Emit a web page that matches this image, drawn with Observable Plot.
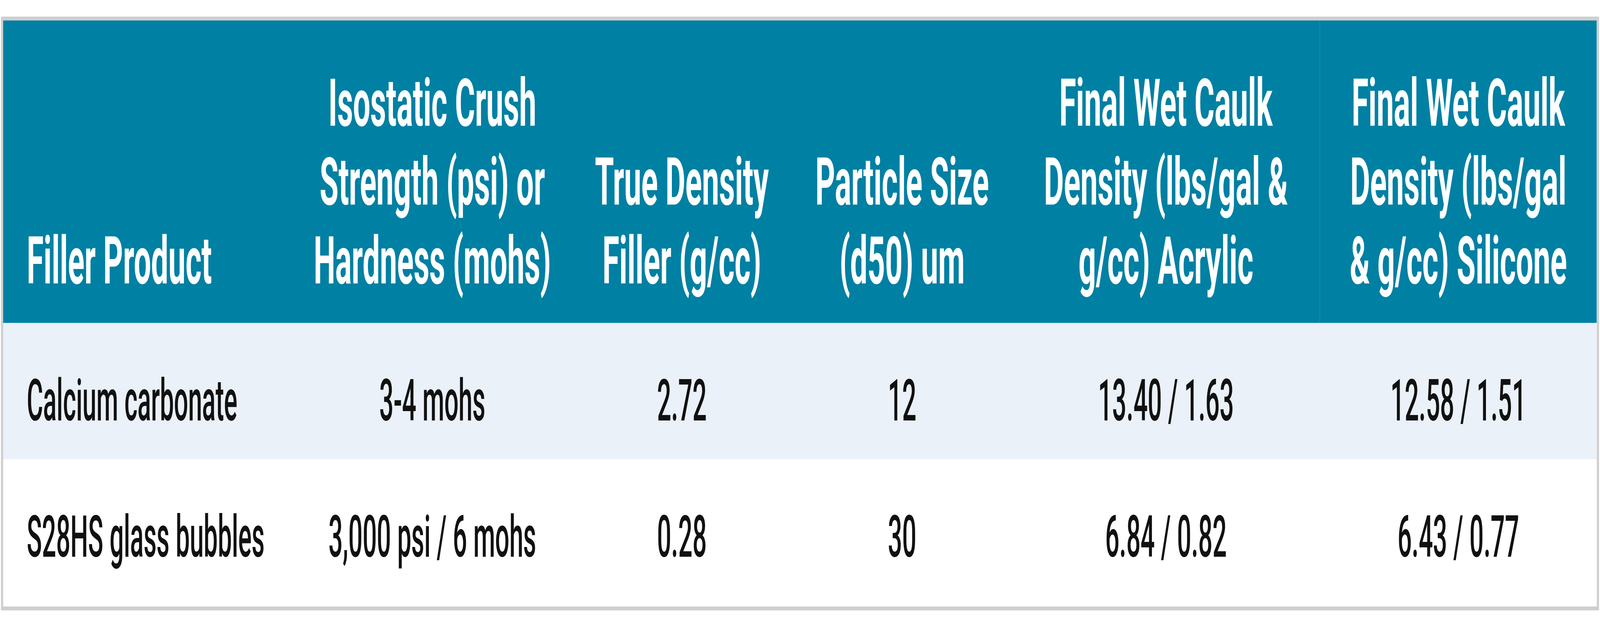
<!DOCTYPE html>
<html>
<head>
<meta charset="utf-8">
<script src="https://cdn.jsdelivr.net/npm/d3@7"></script>
<script src="https://cdn.jsdelivr.net/npm/@observablehq/plot@0.6"></script>
<style>
  html, body { margin: 0; padding: 0; background: #ffffff; overflow: hidden; width: 100%; height: 100%; }
  #chart { width: 100vw; height: 100vh; overflow: hidden; }
  #chart svg { display: block; }
</style>
</head>
<body>
<div id="chart"></div>
<script>
// ---------- DATA ----------
const headers = [
  "Filler Product",
  "Isostatic Crush\nStrength (psi) or\nHardness (mohs)",
  "True Density\nFiller (g/cc)",
  "Particle Size\n(d50) um",
  "Final Wet Caulk\nDensity (lbs/gal &\ng/cc) Acrylic",
  "Final Wet Caulk\nDensity (lbs/gal\n& g/cc) Silicone"
];
const products = ["Calcium carbonate", "S28HS glass bubbles"];
const crushStrength = ["3-4 mohs", "3,000 psi / 6 mohs"];
const trueDensity = [2.72, 0.28];
const particleSize = [12, 30];
const acrylicLbsGal = [13.40, 6.84];
const acrylicGcc = [1.63, 0.82];
const siliconeLbsGal = [12.58, 6.43];
const siliconeGcc = [1.51, 0.77];

// ---------- LAYOUT / STYLE ----------
const W = 7278, H = 1606;
const margin = {left: 14, right: 15, top: 52, bottom: 53};
const colWidths = [1319, 1266, 1004, 1000, 1400, 1260];
const rowHeights = [775, 349, 377];           // header, row 1, row 2
const leftPad = 107;                           // first column text inset
const headerBaselineFromBottom = 102;
const rowBaseline = 249;
const teal = "#0080a3";
const rowFills = [teal, "#eaf1f8", "#ffffff"];
const borderColor = "#cfcfcf";
const font = "Roboto, 'Liberation Sans', sans-serif";
const headerSquash = 0.83;   // condensed look
const bodySquash = 0.765;

// cumulative edges
const colEdges = [0];
colWidths.forEach(w => colEdges.push(colEdges[colEdges.length - 1] + w));
const rowEdges = [0];
rowHeights.forEach(h => rowEdges.push(rowEdges[rowEdges.length - 1] + h));
const totalW = colEdges[colEdges.length - 1];
const totalH = rowEdges[rowEdges.length - 1];

// ---------- TABLE BUILD ----------
const fmt2 = d3.format(".2f");
const rows = products.map((p, i) => [
  p,
  crushStrength[i],
  fmt2(trueDensity[i]),
  String(particleSize[i]),
  `${fmt2(acrylicLbsGal[i])} / ${fmt2(acrylicGcc[i])}`,
  `${fmt2(siliconeLbsGal[i])} / ${fmt2(siliconeGcc[i])}`
]);

const rowBands = rowHeights.map((h, r) => ({r, y1: rowEdges[r], y2: rowEdges[r + 1], fill: rowFills[r]}));

const anchorX = c => c === 0 ? colEdges[0] + leftPad : (colEdges[c] + colEdges[c + 1]) / 2;
const anchorT = c => c === 0 ? "start" : "middle";

const headerCells = headers.map((t, c) => ({
  text: t, x: anchorX(c), y: rowEdges[1] - headerBaselineFromBottom, anchor: anchorT(c)
}));
const bodyCells = [];
rows.forEach((row, r) => row.forEach((t, c) => bodyCells.push({
  text: t, x: anchorX(c), y: rowEdges[r + 1] + rowBaseline, anchor: anchorT(c)
})));

const textCommon = {x: "x", y: "y", text: "text", lineAnchor: "bottom", fontFamily: font};

const chart = Plot.plot({
  width: W,
  height: H,
  marginLeft: margin.left,
  marginRight: margin.right,
  marginTop: margin.top,
  marginBottom: margin.bottom,
  style: {background: "#ffffff"},
  x: {type: "linear", domain: [0, totalW], axis: null},
  y: {type: "linear", domain: [0, totalH], reverse: true, axis: null},
  marks: [
    Plot.rect(rowBands, {x1: 0, x2: totalW, y1: "y1", y2: "y2", fill: "fill"}),
    Plot.ruleX([colEdges[5]], {y1: 0, y2: rowEdges[1], stroke: "#2b93b1", strokeWidth: 2}),
    Plot.text(headerCells.filter(d => d.anchor === "start"), {...textCommon, textAnchor: "start",
      fill: "#ffffff", fontWeight: "bold", fontSize: 168, lineHeight: 1.2, className: "hdr"}),
    Plot.text(headerCells.filter(d => d.anchor === "middle"), {...textCommon, textAnchor: "middle",
      fill: "#ffffff", fontWeight: "bold", fontSize: 168, lineHeight: 1.2, className: "hdr"}),
    Plot.text(bodyCells.filter(d => d.anchor === "start"), {...textCommon, textAnchor: "start",
      fill: "#111111", fontWeight: 500, fontSize: 149, className: "bdy"}),
    Plot.text(bodyCells.filter(d => d.anchor === "middle"), {...textCommon, textAnchor: "middle",
      fill: "#111111", fontWeight: 500, fontSize: 149, className: "bdy"}),
    Plot.frame({stroke: borderColor, strokeWidth: 10, inset: -5})
  ]
});

// horizontal condensing of the glyphs about each text anchor
d3.select(chart).selectAll("g.hdr text").attr("transform", function() {
  return (this.getAttribute("transform") || "") + ` scale(${headerSquash},1)`;
});
d3.select(chart).selectAll("g.bdy text").attr("transform", function() {
  return (this.getAttribute("transform") || "") + ` scale(${bodySquash},1)`;
});

// make the drawing fill the whole browser window (the window may be narrower than 7278 px)
chart.setAttribute("preserveAspectRatio", "none");
chart.style.maxWidth = "none";
chart.style.width = "100vw";
chart.style.height = "100vh";
document.getElementById("chart").appendChild(chart);
</script>
</body>
</html>
